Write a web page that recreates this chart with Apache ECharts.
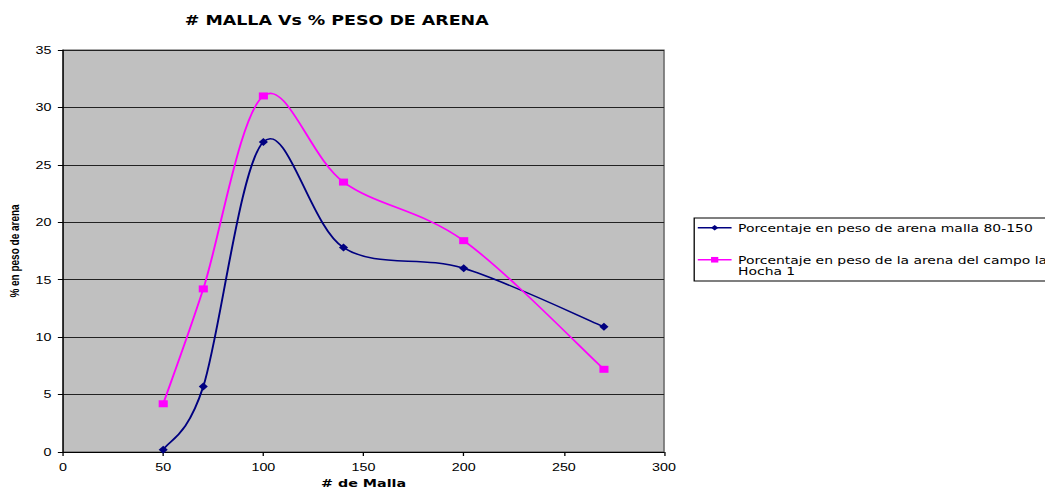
<!DOCTYPE html>
<html>
<head>
<meta charset="utf-8">
<script src="https://cdn.jsdelivr.net/npm/echarts@6/dist/echarts.min.js"></script>
<style>
  html, body { margin: 0; padding: 0; background: #fff; overflow: hidden; }
  #wrap { width: 1045px; height: 492px; overflow: hidden; position: relative; }
  /* the chart is laid out narrow and stretched sideways, like the wide-set original sheet */
  #chart { position: absolute; left: 0; top: 0; width: 804px; height: 492px; transform: scaleX(1.3); transform-origin: 0 0; }
</style>
</head>
<body>
<div id="wrap"><div id="chart"></div></div>
<script>
// Mesh sizes (# de malla) and weight percentages for each sand sample
const mallas = [50, 70, 100, 140, 200, 270];
const arenaMalla80150 = [0.2, 5.7, 27.0, 17.8, 16.0, 10.9];
const arenaCampoHocha = [4.2, 14.2, 31.0, 23.5, 18.4, 7.2];
const serieNames = [
  'Porcentaje en peso de arena malla 80-150',
  'Porcentaje en peso de la arena del campo la Hocha 1'
];
const serieColors = ['#000080', '#FF00FF'];
const xTicks = [0, 50, 100, 150, 200, 250, 300];
const yTicks = [0, 5, 10, 15, 20, 25, 30, 35];

const toPairs = (xs, ys) => xs.map((x, i) => [x, ys[i]]);

// Smoothed curve through the points: one cubic Bezier per segment,
// control points taken from the neighbouring points (Catmull-Rom style).
function curveSeries(name, ys, color) {
  return {
    name: name,
    type: 'custom',
    silent: true,
    z: 2,
    data: toPairs(mallas, ys),
    encode: { x: 0, y: 1 },
    renderItem: function (params, api) {
      const i = params.dataIndex;
      const n = mallas.length;
      if (i >= n - 1) return null;
      const pt = k => {
        const j = Math.max(0, Math.min(n - 1, k));
        return api.coord([mallas[j], ys[j]]);
      };
      const p0 = pt(i - 1), p1 = pt(i), p2 = pt(i + 1), p3 = pt(i + 2);
      const t = 1 / 6;
      return {
        type: 'bezierCurve',
        shape: {
          x1: p1[0], y1: p1[1],
          cpx1: p1[0] + (p2[0] - p0[0]) * t, cpy1: p1[1] + (p2[1] - p0[1]) * t,
          cpx2: p2[0] - (p3[0] - p1[0]) * t, cpy2: p2[1] - (p3[1] - p1[1]) * t,
          x2: p2[0], y2: p2[1]
        },
        style: { stroke: color, lineWidth: 1.5, fill: null }
      };
    }
  };
}

const chart = echarts.init(document.getElementById('chart'), null, { renderer: 'svg', width: 804, height: 492 });
chart.setOption({
  animation: false,
  backgroundColor: '#ffffff',
  title: {
    text: '# MALLA Vs % PESO DE ARENA',
    left: 254,
    top: 9,
    textAlign: 'center',
    textStyle: { fontFamily: 'DejaVu Sans', fontSize: 13.4, fontWeight: 'bold', color: '#000' }
  },
  grid: {
    left: 48.5, width: 462.3, top: 50, height: 402,
    outerBoundsMode: 'none',
    containLabel: false,
    show: true,
    backgroundColor: '#C0C0C0',
    borderColor: '#555',
    borderWidth: 1
  },
  legend: {
    orient: 'vertical',
    left: 534,
    top: 218,
    padding: [4, 300, 4, 2],
    itemGap: 9,
    itemWidth: 26,
    itemHeight: 7,
    borderColor: '#000',
    borderWidth: 1,
    backgroundColor: '#fff',
    lineStyle: { opacity: 1, width: 1.5 },
    textStyle: { fontFamily: 'DejaVu Sans', fontSize: 10.7, color: '#000', lineHeight: 11.5 },
    // the long name wraps; its first line sits level with the legend mark
    formatter: name => name.includes(' Hocha') ? ' \n' + name.replace(' Hocha', '\nHocha') : name,
    data: serieNames
  },
  xAxis: {
    type: 'value',
    min: 0, max: 300, interval: 50,
    name: '# de Malla',
    nameLocation: 'middle',
    nameGap: 20,
    nameTextStyle: { fontFamily: 'DejaVu Sans', fontSize: 11, fontWeight: 'bold', color: '#000' },
    axisLine: { show: true, onZero: false, lineStyle: { color: '#000', width: 1 } },
    axisTick: { show: true, length: 4, lineStyle: { color: '#000' } },
    axisLabel: {
      fontFamily: 'Liberation Sans', fontSize: 11, color: '#000', margin: 10,
      formatter: v => xTicks.includes(v) ? String(v) : ''
    },
    splitLine: { show: false }
  },
  yAxis: {
    type: 'value',
    min: 0, max: 35, interval: 5,
    name: '% en peso de arena',
    nameLocation: 'middle',
    nameGap: 32,
    nameRotate: 90,
    nameTextStyle: { fontFamily: 'Liberation Sans', fontSize: 10, fontWeight: 'bold', color: '#000' },
    axisLine: { show: true, lineStyle: { color: '#000', width: 1 } },
    axisTick: { show: true, length: 4, lineStyle: { color: '#000' } },
    axisLabel: {
      fontFamily: 'Liberation Sans', fontSize: 11, color: '#000', margin: 9,
      formatter: v => yTicks.includes(v) ? String(v) : ''
    },
    splitLine: { show: true, lineStyle: { color: '#222', width: 1 } }
  },
  series: [
    curveSeries('curva 80-150', arenaMalla80150, serieColors[0]),
    curveSeries('curva Hocha', arenaCampoHocha, serieColors[1]),
    {
      name: serieNames[0],
      type: 'line',
      z: 3,
      data: toPairs(mallas, arenaMalla80150),
      symbol: 'diamond',
      symbolSize: [7, 8],
      color: serieColors[0],
      lineStyle: { color: serieColors[0], width: 1.5, opacity: 0 },
      itemStyle: { color: serieColors[0] }
    },
    {
      name: serieNames[1],
      type: 'line',
      z: 3,
      data: toPairs(mallas, arenaCampoHocha),
      symbol: 'rect',
      symbolSize: [7, 7],
      color: serieColors[1],
      lineStyle: { color: serieColors[1], width: 1.5, opacity: 0 },
      itemStyle: { color: serieColors[1] }
    }
  ]
});
</script>
</body>
</html>
